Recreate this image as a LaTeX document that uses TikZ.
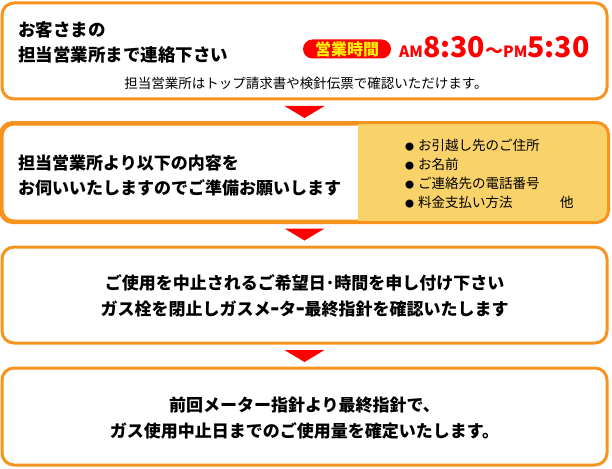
\documentclass[tikz,border=0pt]{standalone}
\usepackage{fontspec}
\setmainfont{Noto Sans CJK JP}
\usepackage{tikz}
\usetikzlibrary{calc, positioning}
\usepackage{xcolor}
\definecolor{boxorange}{HTML}{F7931E}
\definecolor{listyellow}{HTML}{F9D26A}
\definecolor{markred}{HTML}{FF0000}
\newcommand{\fsz}[1]{\fontsize{#1}{#1}\selectfont}
\newcommand{\bul}{{\fsz{9pt}●}\hspace{4pt}}

\begin{document}
\begin{tikzpicture}[x=1pt, y=-1pt,
  stepbox/.style={draw=boxorange, line width=3pt, rounded corners=12pt, fill=white,
                  minimum width=605pt, inner sep=0pt},
  head/.style={font=\fontsize{17.5pt}{25pt}\selectfont\bfseries, align=left, inner sep=0pt},
  body/.style={font=\fontsize{17pt}{26pt}\selectfont\bfseries, align=center, inner sep=0pt},
  note/.style={font=\fontsize{13.5pt}{13.5pt}\selectfont, inner sep=0pt},
  item/.style={font=\fontsize{13.5pt}{13.5pt}\selectfont, anchor=west, inner sep=0pt}]
  \useasboundingbox (0,0) rectangle (612,468);

  % four steps
  \node[stepbox, minimum height=96pt] (s1) at (304.5,51) {};
  \node[stepbox, minimum height=97pt] (s2) at (304.5,172.5) {};
  \node[stepbox, minimum height=96pt] (s3) at (304.5,295) {};
  \node[stepbox, minimum height=97pt] (s4) at (304.5,416.5) {};

  % yellow list area of step 2
  \begin{scope}
    \clip (358,0) rectangle (612,468);
    \fill[listyellow, rounded corners=12pt] (s2.north west) rectangle (s2.south east);
  \end{scope}
  \draw[boxorange, line width=3pt, rounded corners=12pt] (s2.north west) rectangle (s2.south east);

  \foreach \a/\b in {s1/s2, s2/s3, s3/s4}{
    \fill[markred] ($(\a.south)!0.5!(\b.north)$) ++(-20,-5.5) -- ++(40,0) -- ++(-20,12) -- cycle;
  }

  % step 1
  \node[head, anchor=west] (call) at (18,42.5) {お客さまの\\担当営業所まで連絡下さい};
  \node[fill=markred, rounded corners=9.5pt, minimum width=88pt, minimum height=19pt,
        inner sep=0pt, text=yellow, font=\fsz{16pt}\bfseries] (hours) at (347,49) {営業時間};
  \node[text=markred, font=\bfseries, anchor=base west, inner sep=0pt] (time) at (399,58)
    {{\fsz{15.5pt}AM}{\fsz{28.5pt}8:30}{\fsz{18pt}～}{\fsz{15.5pt}PM}{\fsz{28.5pt}5:30}};
  \node[note] (office) at (306,83) {担当営業所はトップ請求書や検針伝票で確認いただけます。};

  % step 2
  \node[head, font=\fontsize{17pt}{25pt}\selectfont\bfseries, anchor=west] (ask) at (18,175.5)
    {担当営業所より以下の内容を\\お伺いいたしますのでご準備お願いします};
  \foreach \t [count=\i] in {お引越し先のご住所, お名前, ご連絡先の電話番号, 料金支払い方法}{
    \node[item] (item\i) at (405,{145+19*(\i-1)}) {\bul\t};
  }
  \node[item] (other) at (560,202) {他};

  % step 3
  \node[body] (stop) at (304.5,296) {ご使用を中止されるご希望日･時間を申し付け下さい\\ガス栓を閉止しガスメｰタｰ最終指針を確認いたします};

  % step 4
  \node[body] (fix) at (304.5,418.5) {前回メーター指針より最終指針で、\\ガス使用中止日までのご使用量を確定いたします。};
\end{tikzpicture}
\end{document}
